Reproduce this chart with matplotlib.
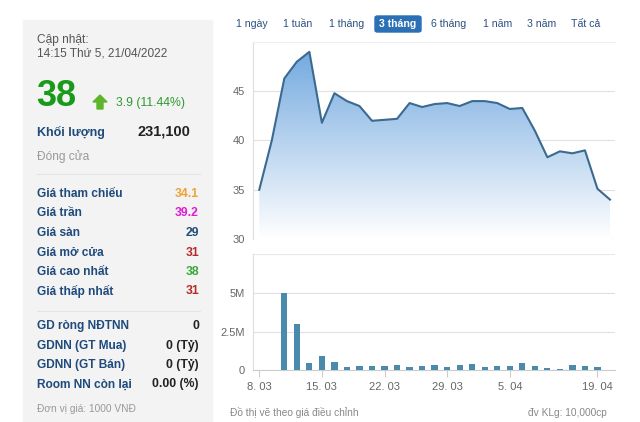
import numpy as np
import matplotlib
matplotlib.use("Agg")
import matplotlib.pyplot as plt
from matplotlib.patches import Rectangle, Polygon, FancyBboxPatch

plt.rcParams['font.family'] = ['Liberation Sans', 'DejaVu Sans']

W, H = 640, 422

# du lieu gia (29 phien)
gia = [35.0, 40.0, 46.3, 48.0, 49.0, 41.8, 44.8, 44.0, 43.5, 42.0,
       42.1, 42.2, 43.8, 43.4, 43.7, 43.8, 43.5, 44.0, 44.0, 43.8,
       43.2, 43.3, 41.0, 38.3, 38.9, 38.7, 39.0, 35.1, 34.0]
# khoi luong (trieu)
khoi_luong = [0, 0, 5.0, 2.98, 0.48, 0.91, 0.54, 0.2, 0.24, 0.24,
              0.24, 0.3, 0.17, 0.24, 0.3, 0.2, 0.3, 0.37, 0.2, 0.24,
              0.24, 0.48, 0.24, 0.13, 0.07, 0.3, 0.24, 0.2, 0]
tick_idx = [0, 5, 10, 15, 20, 27]
tick_lbl = ["8. 03", "15. 03", "22. 03", "29. 03", "5. 04", "19. 04"]

nut = ["1 ngày", "1 tuần", "1 tháng", "3 tháng", "6 tháng", "1 năm", "3 năm", "Tất cả"]
nut_x = [252, 298, 347, 398, 449, 498, 542, 586]

nhan = ["Giá tham chiếu", "Giá trần", "Giá sàn", "Giá mở cửa", "Giá cao nhất", "Giá thấp nhất"]
gia_tri = ["34.1", "39.2", "29", "31", "38", "31"]
mau_gt = ["#eea236", "#e01ad6", "#1f4e79", "#b52a2a", "#3aa83a", "#b52a2a"]
nhan2 = ["GD ròng NĐTNN", "GDNN (GT Mua)", "GDNN (GT Bán)", "Room NN còn lại"]
gia_tri2 = ["0", "0 (Tỷ)", "0 (Tỷ)", "0.00 (%)"]

NAVY = "#1f4a7c"


def px(x, y):
    return x / W, 1 - y / H


fig = plt.figure(figsize=(W / 100, H / 100), dpi=100)
fig.patch.set_facecolor("white")

# khung xam ben trai
x0, y0 = px(23, 422)
fig.patches.append(Rectangle((x0, y0), (212 - 23) / W, (422 - 20) / H,
                             transform=fig.transFigure, color="#f3f3f3", zorder=0))

def t(x, y, s, **kw):
    fx, fy = px(x, y)
    fig.text(fx, fy, s, va="center", **kw)

t(37, 40, "Cập nhật:", fontsize=8.6, color="#555555")
t(37, 54, "14:15 Thứ 5, 21/04/2022", fontsize=8.6, color="#555555")
t(36, 96, "38", fontsize=26, color="#1a9a1a", fontweight="bold")
# mui ten xanh
ax_pts = [(100, 95), (107, 102), (103, 102), (103, 109), (97, 109), (97, 102), (93, 102)]
fig.patches.append(Polygon([px(a, b) for a, b in ax_pts], closed=True,
                           transform=fig.transFigure, color="#5db52c", zorder=3))
t(116, 103, "3.9 (11.44%)", fontsize=8.8, color="#2f9a2f")
t(37, 132, "Khối lượng", fontsize=9, color=NAVY, fontweight="bold")
t(190, 131, "231,100", fontsize=10.5, color="#222222", fontweight="bold", ha="right")
t(37, 157, "Đóng cửa", fontsize=8.6, color="#999999")

for yy in (174, 311):
    fa, fb = px(37, yy)
    fig.add_artist(plt.Line2D([fa, 200 / W], [fb, fb], color="#e4e4e4", lw=0.8))

for i, (n, v, c) in enumerate(zip(nhan, gia_tri, mau_gt)):
    yy = 194 + i * 19.5
    t(37, yy, n, fontsize=8.6, color=NAVY, fontweight="bold")
    t(199, yy, v, fontsize=8.8, color=c, fontweight="bold", ha="right")

for i, (n, v) in enumerate(zip(nhan2, gia_tri2)):
    yy = 326 + i * 19.5
    t(37, yy, n, fontsize=8.6, color=NAVY, fontweight="bold")
    t(199, yy, v, fontsize=8.8, color="#222222", fontweight="bold", ha="right")

t(37, 409, "Đơn vị giá: 1000 VNĐ", fontsize=7.3, color="#999999")

# nut chon thoi gian
for s, xx in zip(nut, nut_x):
    if s == "3 tháng":
        bx, by = px(375, 32)
        fig.patches.append(FancyBboxPatch((bx, by), 46 / W, 16 / H,
                                          boxstyle="round,pad=0,rounding_size=0.004",
                                          transform=fig.transFigure, color="#2b6fb5", zorder=2))
        t(xx, 24, s, fontsize=7.6, color="white", fontweight="bold", ha="center", zorder=3)
    else:
        t(xx, 24, s, fontsize=7.6, color="#2a5080", ha="center")

x = np.arange(len(gia))
XL = (-0.5, 28.4)

# bieu do gia
ax1 = fig.add_axes([253 / W, (422 - 239) / H, 362 / W, 197 / H])
ax1.set_xlim(*XL)
ax1.set_ylim(30, 50)
grad = np.linspace(1, 0, 256).reshape(-1, 1)
top = np.array(matplotlib.colors.to_rgb("#6ea6de"))
img = np.ones((256, 1, 3)) * (1 - grad[..., None]) + top * grad[..., None]
img = img.reshape(256, 1, 3)
im = ax1.imshow(img, extent=[x[0], x[-1], 30, 50], aspect="auto", origin="upper", zorder=1)
poly = Polygon(list(zip(x, gia)) + [(x[-1], 30), (x[0], 30)], closed=True,
               facecolor="none", edgecolor="none", transform=ax1.transData)
ax1.add_patch(poly)
im.set_clip_path(poly)
ax1.plot(x, gia, color="#3b6a90", lw=1.5, zorder=3)
ax1.set_yticks([30, 35, 40, 45])
ax1.grid(axis="y", color="#e0e0e0", lw=0.8, zorder=0)
ax1.set_axisbelow(True)
ax1.tick_params(axis="y", length=0, labelsize=8, labelcolor="#666666", pad=6)
ax1.set_xticks([])
for k in ("right", "bottom"):
    ax1.spines[k].set_visible(False)
ax1.spines["left"].set_color("#dddddd")
ax1.spines["top"].set_color("#eeeeee")
ax1.axhline(30, color="#e0e0e0", lw=0.8, zorder=0)

# bieu do khoi luong
ax2 = fig.add_axes([253 / W, (422 - 370) / H, 362 / W, 116 / H])
ax2.set_xlim(*XL)
ax2.set_ylim(0, 7.55)
ax2.bar(x, khoi_luong, width=0.5, color="#4a8aaa", zorder=3)
ax2.set_yticks([0, 2.5, 5])
ax2.set_yticklabels(["0", "2.5M", "5M"])
ax2.grid(axis="y", color="#e0e0e0", lw=0.8, zorder=0)
ax2.axhline(7.55, color="#e8e8e8", lw=0.8)
ax2.tick_params(axis="y", length=0, labelsize=8, labelcolor="#666666", pad=6)
ax2.set_xticks(tick_idx)
ax2.set_xticklabels(tick_lbl)
ax2.tick_params(axis="x", length=5, color="#cccccc", labelsize=8, labelcolor="#666666", pad=4)
for k in ("right", "top"):
    ax2.spines[k].set_visible(False)
ax2.spines["left"].set_color("#dddddd")
ax2.spines["bottom"].set_color("#cccccc")

t(230, 413, "Đồ thị vẽ theo giá điều chỉnh", fontsize=7.3, color="#888888")
t(607, 413, "đv KLg: 10,000cp", fontsize=7.3, color="#888888", ha="right")

fig.savefig("out.png", dpi=100)
